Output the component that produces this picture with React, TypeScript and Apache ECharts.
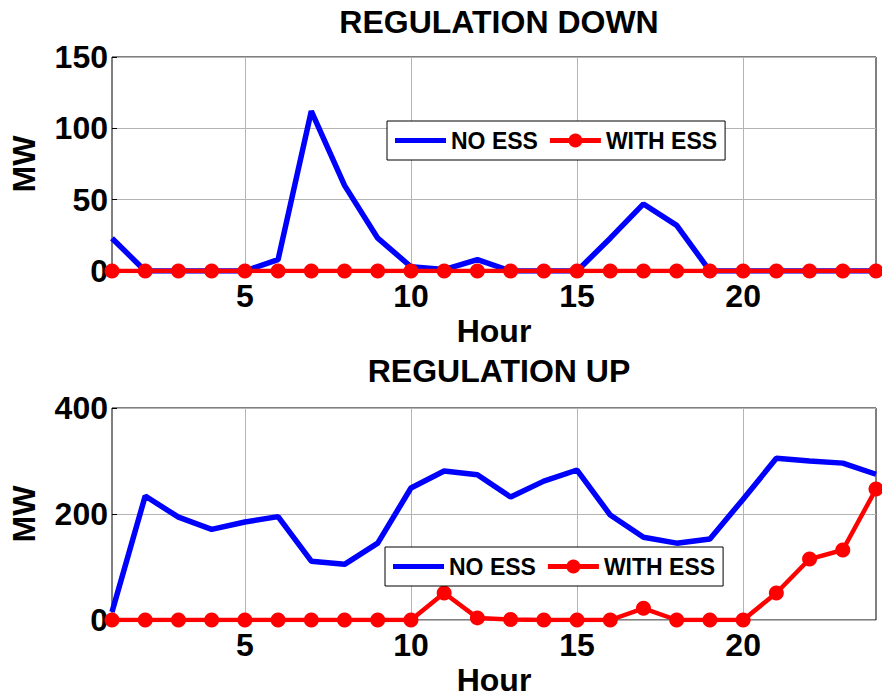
import React, { useEffect, useRef } from "react";
import * as echarts from "echarts";

const hours = Array.from({ length: 24 }, (_, i) => i + 1);
const downNoEss = [23, 0, 0, 0, 0, 8, 112, 60, 23, 3, 1, 8, 0, 0, 0, 23, 47, 32, 0, 0, 0, 0, 0, 0];
const downWithEss = [0, 0, 0, 0, 0, 0, 0, 0, 0, 0, 0, 0, 0, 0, 0, 0, 0, 0, 0, 0, 0, 0, 0, 0];
const upNoEss = [15, 234, 194, 171, 185, 195, 111, 105, 145, 249, 281, 274, 232, 262, 283, 198, 156, 145, 153, 228, 305, 300, 296, 275];
const upWithEss = [0, 0, 0, 0, 0, 0, 0, 0, 0, 0, 51, 4, 1, 0, 0, 0, 22, 0, 0, 0, 51, 115, 132, 247];
const xTicks = [5, 10, 15, 20];
const titles = ["REGULATION DOWN", "REGULATION UP"];
const seriesNames = ["NO ESS", "WITH ESS"];

const FONT = "'Liberation Sans', Arial, Helvetica, sans-serif";
const LINE_ICON = "path://M0,0L0.01,0M0,5L51,5L51,10L0,10ZM51,15L51.01,15";
const LINE_DOT_ICON =
  "path://M0,0L0.01,0M0,5L51,5L51,10L0,10ZM25.5,0.5A7,7,0,1,1,25.49,0.5ZM51,15L51.01,15";

export default function App() {
  const ref = useRef<HTMLDivElement>(null);
  useEffect(() => {
    document.body.style.margin = "0";
    const chart = echarts.init(ref.current!, null, { renderer: "svg" });
    const txt = { fontFamily: FONT, fontWeight: "bold" as const, color: "#000" };
    const grids = [
      { left: 112, right: 6, top: 57, height: 214 },
      { left: 112, right: 6, top: 408, height: 212 },
    ];
    const yRanges = [
      { max: 150, interval: 50 },
      { max: 400, interval: 200 },
    ];
    const mkX = (i: number) => ({
      type: "value",
      gridIndex: i,
      min: 1,
      max: 24,
      name: "Hour",
      nameLocation: "middle",
      nameGap: 44,
      nameTextStyle: { ...txt, fontSize: 32, verticalAlign: "top" },
      axisLine: { show: false },
      axisTick: { show: true, inside: true, length: 5, customValues: xTicks, lineStyle: { color: "#000" } },
      axisLabel: { ...txt, fontSize: 32, margin: 9, customValues: xTicks },
      splitLine: { show: true, lineStyle: { color: "#b4b4b4", width: 1 } },
    });
    const mkY = (i: number) => ({
      type: "value",
      gridIndex: i,
      min: 0,
      max: yRanges[i].max,
      interval: yRanges[i].interval,
      name: "MW",
      nameLocation: "middle",
      nameRotate: 90,
      nameGap: 72,
      nameTextStyle: { ...txt, fontSize: 32 },
      axisLine: { show: false },
      axisTick: { show: true, inside: true, length: 5, lineStyle: { color: "#000" } },
      axisLabel: { ...txt, fontSize: 32, margin: 4 },
      splitLine: { show: true, lineStyle: { color: "#b4b4b4", width: 1 } },
    });
    const blue = (i: number, vals: number[]) => ({
      name: seriesNames[0],
      type: "line",
      xAxisIndex: i,
      yAxisIndex: i,
      data: hours.map((h, k) => [h, vals[k]]),
      showSymbol: false,
      symbol: "none",
      lineStyle: { color: "#0000ff", width: 5.5 },
      itemStyle: { color: "#0000ff" },
    });
    const red = (i: number, vals: number[]) => ({
      name: seriesNames[1],
      type: "line",
      xAxisIndex: i,
      yAxisIndex: i,
      data: hours.map((h, k) => [h, vals[k]]),
      symbol: "circle",
      symbolSize: 15,
      lineStyle: { color: "#ff0000", width: 4.5 },
      itemStyle: { color: "#ff0000" },
    });
    const mkLegend = (left: number, top: number) => ({
      left,
      top,
      orient: "horizontal",
      backgroundColor: "#fff",
      borderColor: "#000",
      borderWidth: 1,
      padding: [8, 8, 8, 8],
      itemWidth: 51,
      itemHeight: 15,
      itemGap: 12,
      textStyle: { ...txt, fontSize: 23 },
      data: [
        { name: seriesNames[0], icon: LINE_ICON },
        { name: seriesNames[1], icon: LINE_DOT_ICON },
      ],
    });
    chart.setOption({
      animation: false,
      backgroundColor: "#fff",
      title: [
        { text: titles[0], left: 494, textAlign: "center", top: 1, textStyle: { ...txt, fontSize: 32 } },
        { text: titles[1], left: 494, textAlign: "center", top: 350, textStyle: { ...txt, fontSize: 32 } },
      ],
      grid: grids.map((g) => ({ ...g, show: true, borderColor: "#000", borderWidth: 1, backgroundColor: "#fff" })),
      xAxis: [mkX(0), mkX(1)],
      yAxis: [mkY(0), mkY(1)],
      legend: [mkLegend(387, 121), mkLegend(385, 547)],
      series: [blue(0, downNoEss), red(0, downWithEss), blue(1, upNoEss), red(1, upWithEss)],
    });
    return () => chart.dispose();
  }, []);
  return <div ref={ref} style={{ width: 882, height: 700 }} />;
}
